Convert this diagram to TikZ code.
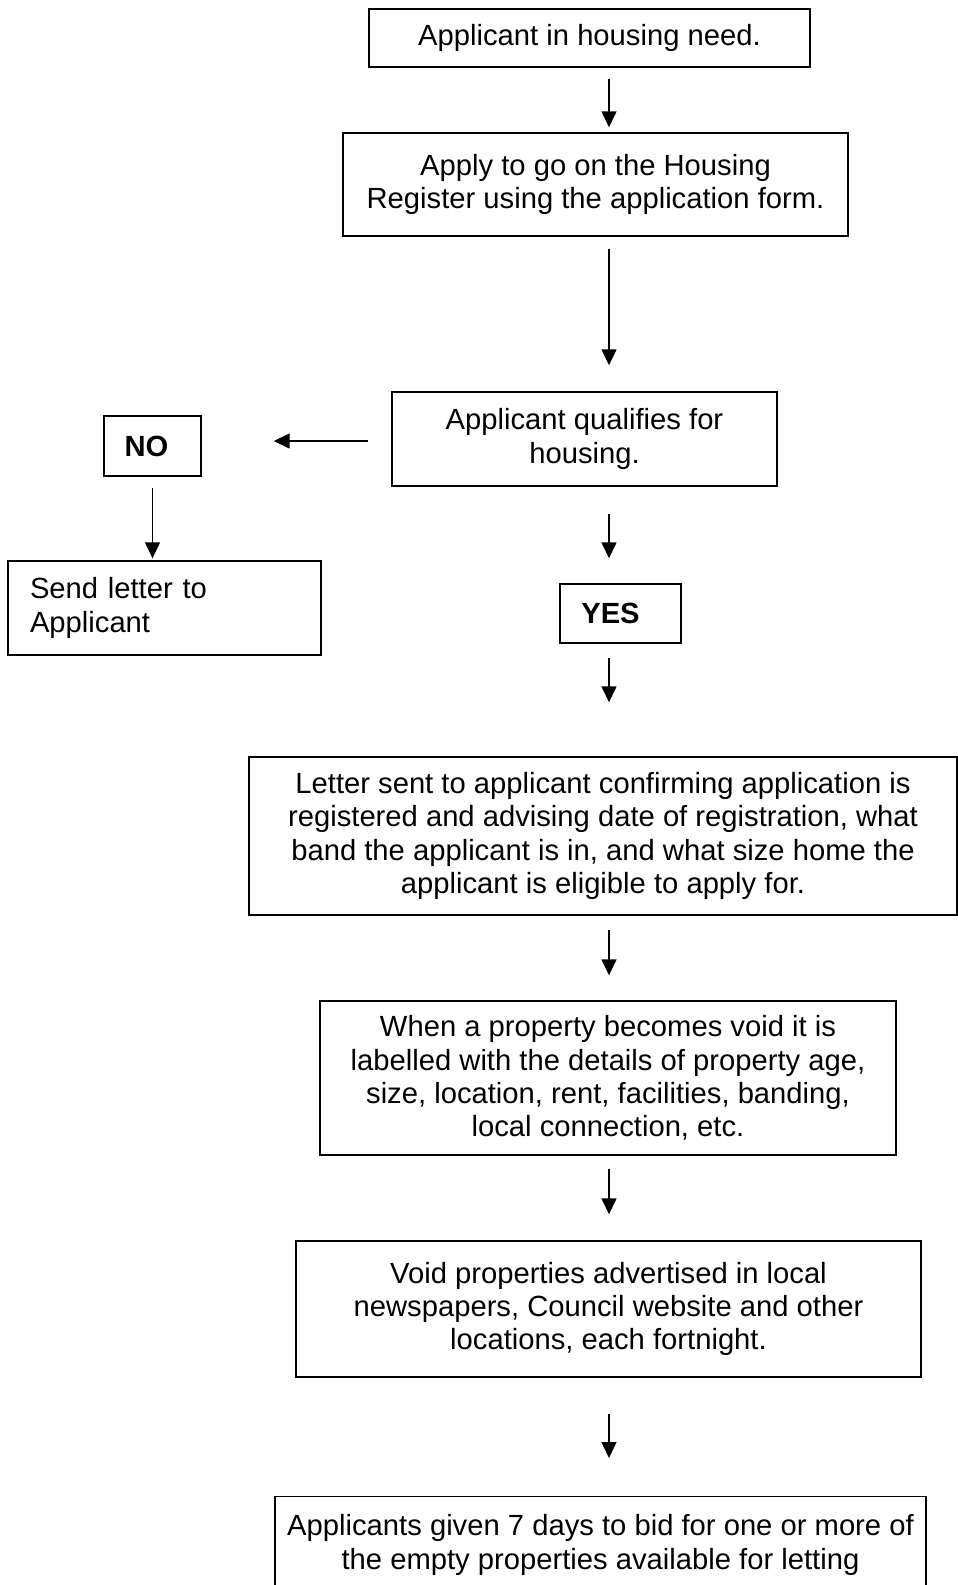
\documentclass[tikz,border=0pt]{standalone}
\usepackage{fontspec}
\setmainfont{Liberation Sans}
\usetikzlibrary{arrows.meta}
\begin{document}
\begin{tikzpicture}[x=0.5pt,y=-0.5pt,
  box/.style={draw,line width=0.7pt,inner sep=0pt,align=center,
    font=\fontsize{14.6}{16.7}\selectfont},
  arr/.style={line width=0.7pt,-{Triangle[length=8pt,width=7.5pt]}}]
\useasboundingbox (0,0) rectangle (958,1585);
\coordinate (ax) at (609,0);
\coordinate (hy) at (0,441);
\node[box,minimum width=220.5pt,minimum height=29pt] (b1) at (589.5,38) {Applicant in housing need.};
\node[box,minimum width=252.5pt,minimum height=51.5pt] (b2) at (595.5,184.5) {Apply to go on the Housing\\Register using the application form.};
\node[box,minimum width=192.5pt,minimum height=47pt] (b3) at (584.5,439) {Applicant qualifies for\\housing.};
\node[box,minimum width=48.5pt,minimum height=30pt,font=\fontsize{14.6}{16.7}\selectfont\bfseries] (no) at (152.5,446) {\hspace*{-6pt}NO};
\node[box,minimum width=156.5pt,minimum height=47pt,align=left,text width=134.5pt,inner xsep=11pt] (send) at (164.5,608) {Send letter to\\Applicant};
\node[box,minimum width=60.5pt,minimum height=29.5pt,font=\fontsize{14.6}{16.7}\selectfont\bfseries] (yes) at (620.5,613.5) {\hspace*{-10pt}YES};
\node[box,minimum width=354pt,minimum height=79pt] (b4) at (603,836) {Letter sent to applicant confirming application is\\registered and advising date of registration, what\\band the applicant is in, and what size home the\\applicant is eligible to apply for.};
\node[box,minimum width=288pt,minimum height=77pt] (b5) at (608,1078) {When a property becomes void it is\\labelled with the details of property age,\\size, location, rent, facilities, banding,\\local connection, etc.};
\node[box,minimum width=312.5pt,minimum height=68pt] (b6) at (608.5,1309) {Void properties advertised in local\\newspapers, Council website and other\\locations, each fortnight.};
\node[box,minimum width=325.5pt,anchor=north,inner ysep=9pt] (b7) at (600.5,1496) {Applicants given 7 days to bid for one or more of\\the empty properties available for letting};
\draw[arr,shorten <=5.5pt,shorten >=2.5pt] (b1.south -| ax) -- (b2.north -| ax);
\draw[arr,shorten <=6pt,shorten >=13pt] (b2.south -| ax) -- (b3.north -| ax);
\draw[arr,shorten <=11.5pt,shorten >=36pt] (b3.west |- hy) -- (no.east |- hy);
\draw[arr,shorten <=5.5pt,shorten >=1pt] (no.south) -- (send.north -| no.south);
\draw[arr,shorten <=13.5pt,shorten >=12.5pt] (b3.south -| ax) -- (yes.north -| ax);
\draw[arr,shorten <=7pt,shorten >=27pt] (yes.south -| ax) -- (b4.north -| ax);
\draw[arr,shorten <=7pt,shorten >=12.5pt] (b4.south -| ax) -- (b5.north -| ax);
\draw[arr,shorten <=6.5pt,shorten >=13pt] (b5.south -| ax) -- (b6.north -| ax);
\draw[arr,shorten <=18pt,shorten >=19pt] (b6.south -| ax) -- (b7.north -| ax);
\end{tikzpicture}
\end{document}
